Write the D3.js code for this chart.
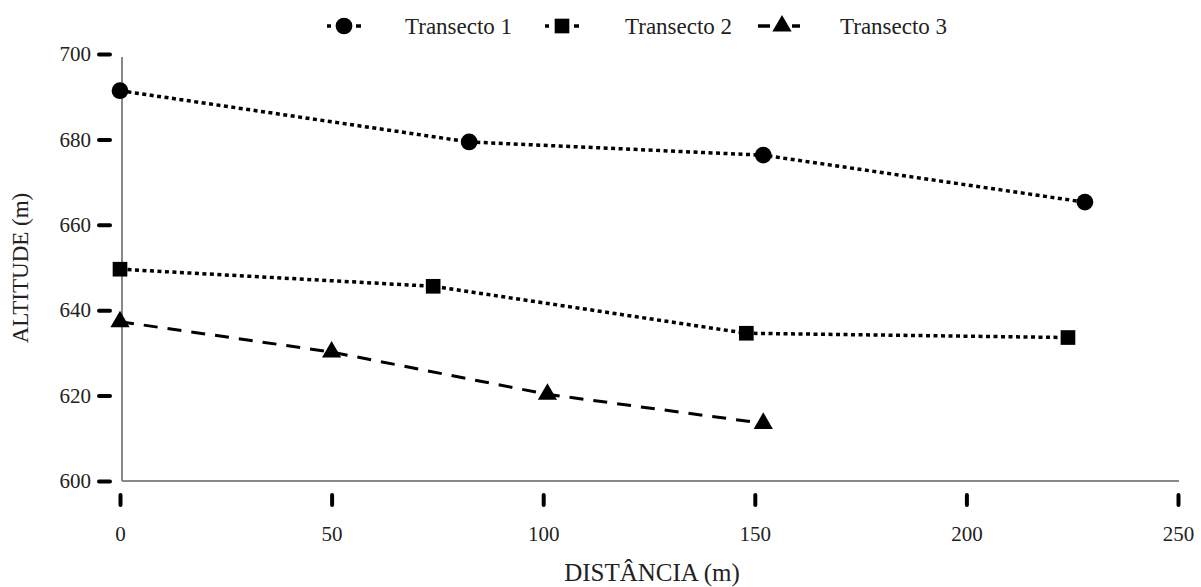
<!DOCTYPE html>
<html>
<head>
<meta charset="utf-8">
<script src="https://cdn.jsdelivr.net/npm/d3@7"></script>
<style>
  body { margin: 0; background: #fff; }
  text { font-family: "Liberation Serif", "Times New Roman", serif; fill: #222; }
</style>
</head>
<body>
<div id="chart"></div>
<script>
// data
const seriesNames = ["Transecto 1", "Transecto 2", "Transecto 3"];
const t1Dist = [0, 82.5, 152, 228];
const t1Alt = [691.4, 679.4, 676.3, 665.3];
const t2Dist = [0, 74, 148, 224];
const t2Alt = [649.6, 645.6, 634.6, 633.6];
const t3Dist = [0, 50, 101, 152];
const t3Alt = [637.3, 630.2, 620.3, 613.5];
const xTicks = [0, 50, 100, 150, 200, 250];
const yTicks = [600, 620, 640, 660, 680, 700];

const width = 1201, height = 587;

const svg = d3.select("#chart").append("svg")
  .attr("width", width)
  .attr("height", height);

const x = d3.scaleLinear().domain([0, 250]).range([120, 1178]);
const y = d3.scaleLinear().domain([600, 700]).range([481, 54]);

// axis frame lines (grey)
svg.append("line")
  .attr("x1", 122).attr("x2", 122)
  .attr("y1", 57).attr("y2", y(600))
  .attr("stroke", "#888").attr("stroke-width", 2);
svg.append("line")
  .attr("x1", 122).attr("x2", 1179)
  .attr("y1", y(600)).attr("y2", y(600))
  .attr("stroke", "#888").attr("stroke-width", 2);

// y axis ticks sit a bit left of the frame
const yAxis = svg.append("g")
  .attr("transform", "translate(111,0)")
  .call(d3.axisLeft(y).tickValues(yTicks).tickSize(14).tickPadding(6));
yAxis.select(".domain").remove();
yAxis.selectAll(".tick line")
  .attr("stroke", "#000").attr("stroke-width", 4).attr("stroke-linecap", "round")
  .attr("x1", -1).attr("x2", -12);
yAxis.selectAll(".tick text")
  .attr("font-size", 21).attr("fill", "#222")
  .style("font-family", "Liberation Serif");

const xAxis = svg.append("g")
  .attr("transform", "translate(0,494)")
  .call(d3.axisBottom(x).tickValues(xTicks).tickSize(12).tickPadding(20));
xAxis.select(".domain").remove();
xAxis.selectAll(".tick line")
  .attr("stroke", "#000").attr("stroke-width", 4).attr("stroke-linecap", "round")
  .attr("y1", 1).attr("y2", 11);
xAxis.selectAll(".tick text")
  .attr("font-size", 21).attr("fill", "#222")
  .style("font-family", "Liberation Serif");

// axis titles
svg.append("text")
  .attr("x", 652).attr("y", 581)
  .attr("text-anchor", "middle")
  .attr("font-size", 25)
  .text("DISTÂNCIA (m)");
svg.append("text")
  .attr("transform", "translate(28,268) rotate(-90)")
  .attr("text-anchor", "middle")
  .attr("font-size", 23)
  .text("ALTITUDE (m)");

const series = [
  { name: seriesNames[0], dist: t1Dist, alt: t1Alt, dash: "4,3.5", sw: 3.5, marker: "circle" },
  { name: seriesNames[1], dist: t2Dist, alt: t2Alt, dash: "4,3.5", sw: 3.5, marker: "square" },
  { name: seriesNames[2], dist: t3Dist, alt: t3Alt, dash: "14,10", sw: 3, marker: "triangle" }
];

const symbols = {
  circle: d3.symbol().type(d3.symbolCircle).size(220),
  square: d3.symbol().type(d3.symbolSquare).size(215),
  triangle: d3.symbol().type(d3.symbolTriangle).size(160)
};

const line = d3.line()
  .x(d => x(d[0]))
  .y(d => y(d[1]));

series.forEach(s => {
  const pts = s.dist.map((d, i) => [d, s.alt[i]]);
  svg.append("path")
    .datum(pts)
    .attr("d", line)
    .attr("fill", "none")
    .attr("stroke", "#000")
    .attr("stroke-width", s.sw)
    .attr("stroke-dasharray", s.dash);
  svg.selectAll(null)
    .data(pts)
    .join("path")
    .attr("d", symbols[s.marker])
    .attr("transform", d => `translate(${x(d[0])},${y(d[1])})`)
    .attr("fill", "#000");
});

// legend
const legendX = [344, 562, 782];
const legendTextX = [405, 625, 840];
const legend = svg.append("g").attr("transform", "translate(0,26)");
series.forEach((s, i) => {
  const g = legend.append("g").attr("transform", `translate(${legendX[i]},0)`);
  if (s.marker === "triangle") {
    g.append("line").attr("x1", -24).attr("x2", -12).attr("stroke", "#000").attr("stroke-width", 3.5);
    g.append("line").attr("x1", 10).attr("x2", 18).attr("stroke", "#000").attr("stroke-width", 3.5);
  } else {
    g.append("line").attr("x1", -17).attr("x2", -13).attr("stroke", "#000").attr("stroke-width", 3.5);
    g.append("line").attr("x1", 12).attr("x2", 17).attr("stroke", "#000").attr("stroke-width", 3.5);
  }
  g.append("path")
    .attr("d", symbols[s.marker])
    .attr("fill", "#000");
  legend.append("text")
    .attr("x", legendTextX[i]).attr("dy", "0.35em")
    .attr("font-size", 23)
    .text(s.name);
});
</script>
</body>
</html>
